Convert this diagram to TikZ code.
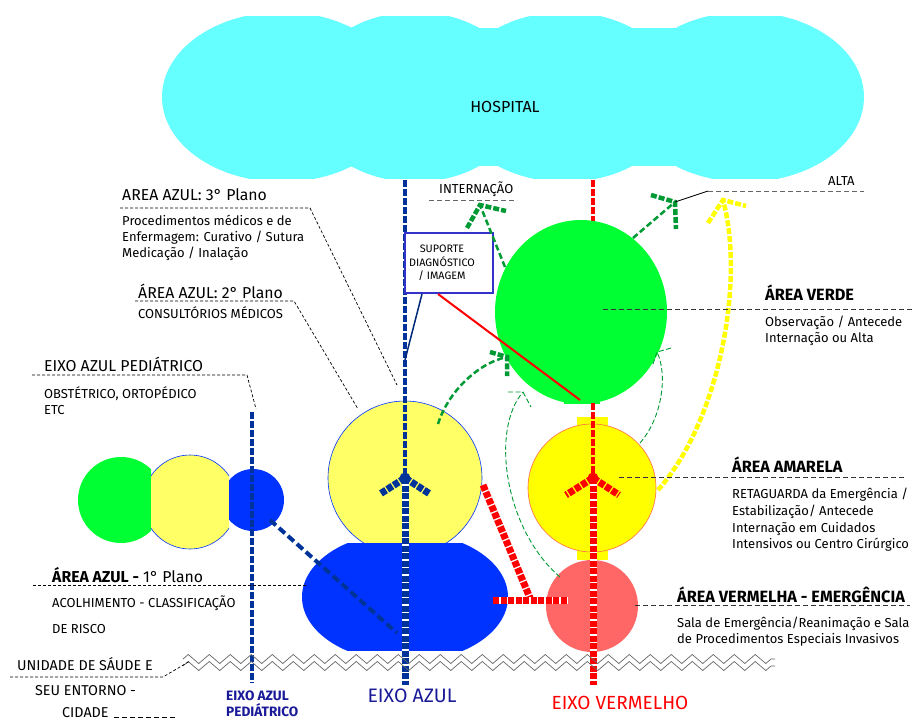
\documentclass[tikz,border=0pt]{standalone}
\usepackage{fontspec}
\setmainfont{Fira Sans}
\usetikzlibrary{shapes.geometric,decorations.pathmorphing}
\definecolor{cloudc}{HTML}{66FFFF}
\definecolor{greenA}{HTML}{00FF33}
\definecolor{yelP}{HTML}{FFFF66}
\definecolor{yelB}{HTML}{FFFF00}
\definecolor{blueA}{HTML}{0033FF}
\definecolor{salmonC}{HTML}{FF6666}
\definecolor{navyA}{HTML}{003399}
\definecolor{redA}{HTML}{FF0000}
\definecolor{greenD}{HTML}{009933}
\definecolor{boxc}{HTML}{3333CC}
\definecolor{labnavy}{HTML}{1A1A99}
\definecolor{zig}{HTML}{666666}
\begin{document}
\begin{tikzpicture}[x=1pt,y=-1pt,
 lbl/.style={anchor=base west, inner sep=0, font=\fontsize{13}{15}\selectfont},
 ttl/.style={anchor=base west, inner sep=0, font=\fontsize{15.8}{18}\selectfont},
 uttl/.style={anchor=base west, inner sep=0, font=\fontsize{14.3}{16}\selectfont},
 bttl/.style={anchor=base west, inner sep=0, font=\fontsize{16.3}{18}\selectfont\bfseries},
 leader/.style={draw=black, line width=0.7pt, dash pattern=on 3pt off 2pt},
 leaderB/.style={draw=black!80, line width=1pt, dash pattern=on 5pt off 3pt},
 axisthin/.style={line width=3.5pt, dash pattern=on 7pt off 2pt},
 axisthick/.style={line width=7pt, dash pattern=on 6pt off 1.5pt},
 under/.style={draw=white, line width=7pt},
 garrow/.style={draw=greenD, line width=2.5pt, dash pattern=on 6pt off 3pt},
 garm/.style={draw=greenD, line width=4.5pt, dash pattern=on 6pt off 2pt},
 gthin/.style={draw=greenD, line width=0.9pt, dash pattern=on 5pt off 2.5pt},
 blob/.style={inner sep=0, minimum size=#1},
]
\fill[white] (0,0) rectangle (914,720);
\useasboundingbox (0,0) rectangle (914,720);

% ---------- cloud ----------
\begin{scope}
\clip (150,16) rectangle (880,178);
\fill[cloudc] (282,97) ellipse [x radius=120, y radius=85];
\fill[cloudc] (415,97) ellipse [x radius=110, y radius=85];
\fill[cloudc] (565,97) ellipse [x radius=115, y radius=85];
\fill[cloudc] (745,97) ellipse [x radius=119, y radius=85];
\fill[cloudc] (282,28) rectangle (745,166);
\end{scope}
\node[font=\fontsize{16}{18}\selectfont] (hosp) at (505,107) {HOSPITAL};

% ---------- axis coordinates ----------
\coordinate (bTop) at (405,180);
\coordinate (bMid) at (405,478);
\coordinate (bBot) at (405,685);
\coordinate (rTop) at (593,180);
\coordinate (rGb) at (593,403);
\coordinate (rMid) at (593,478);
\coordinate (rBot) at (593,685);

\draw[redA, axisthin] (rTop) -- (593,240);

% ---------- big shapes ----------
\node[ellipse, fill=greenA, blob=0, minimum width=172, minimum height=184] (verde) at (581,312) {};
\fill[greenA] (564,395) rectangle (600,404);

\node[circle, fill=salmonC, blob=92] (vermelha) at (592,606) {};
\fill[yelB] (577,417) rectangle (608,430);
\fill[yelB] (577,546) rectangle (608,560);
\node[circle, fill=yelB, draw=salmonC!70!orange, line width=0.6pt, blob=128] (amarela) at (592,488) {};

\node[circle, fill=yelP, draw=blueA, line width=0.6pt, blob=154] (azul2) at (405,478) {};
\begin{scope}
\clip (290,543) rectangle (520,650);
\node[ellipse, fill=blueA, blob=0, minimum width=206, minimum height=130] (azul1) at (405,597) {};
\end{scope}

% ---------- small group ----------
\begin{scope}
\clip (60,440) rectangle (151,560);
\node[circle, fill=greenA, blob=86] (sg) at (121,500) {};
\end{scope}
\begin{scope}
\clip (151,440) rectangle (229,560);
\node[circle, fill=yelP, draw=blueA, line width=0.6pt, blob=94] (sy) at (190,502) {};
\end{scope}
\begin{scope}
\clip (229,440) rectangle (300,560);
\node[circle, fill=blueA, blob=62] (sb) at (253,500) {};
\end{scope}

% ---------- axes ----------
\draw[navyA, axisthin] (bTop) -- (bMid);
\draw[under] (bMid) -- (bBot);
\draw[navyA, axisthick] (bMid) -- (bBot);
\coordinate (bL) at (380,494);
\coordinate (bR) at (430,494);
\draw[navyA, axisthick] (bMid) -- (bL);
\draw[navyA, axisthick] (bMid) -- (bR);
\fill[navyA] (bMid) circle (5.5);

\draw[redA, axisthin] (rGb) -- (rMid);
\draw[under] (rMid) -- (rBot);
\draw[redA, axisthick] (rMid) -- (rBot);
\coordinate (rL) at (566,495);
\coordinate (rR) at (619,495);
\draw[redA, axisthick] (rMid) -- (rL);
\draw[redA, axisthick] (rMid) -- (rR);
\fill[redA] (rMid) circle (5.5);

% pediatric axis
\coordinate (pTop) at (252,412);
\coordinate (pBot) at (252,683);
\draw[navyA, line width=3.5pt, dash pattern=on 7pt off 2pt] (pTop) -- (pBot);
% diagonal from small blue circle
\coordinate (dS) at (270,520);
\coordinate (dE) at (397,633);
\draw[navyA, line width=4pt, dash pattern=on 8pt off 4pt] (dS) -- (dE);

% red connector
\coordinate (c1) at (483,485);
\coordinate (c2) at (530,598);
\coordinate (c3) at (493,600);
\coordinate (c4) at (568,600);
\draw[under] (c1) -- (c2); \draw[redA, axisthick] (c1) -- (c2);
\draw[under] (c3) -- (c4); \draw[redA, axisthick] (c3) -- (c4);

% ---------- suporte box ----------
\node[draw=boxc, line width=2.5pt, fill=white, blob=0, minimum width=88, minimum height=60] (sup) at (449,263) {};
\node[align=center, inner sep=0, font=\fontsize{10.8}{13.5}\selectfont] (suptxt) at (442,263) {SUPORTE\\DIAGNÓSTICO\\/ IMAGEM};
\coordinate (supA) at (422,294);
\coordinate (supB) at (438,294);
\coordinate (supAe) at (405,360);
\coordinate (supBe) at (580,400);
\draw[navyA!80!black, line width=1.5pt] (supA) -- (supAe);
\draw[redA, line width=2pt] (supB) -- (supBe);

% ---------- green arrows ----------
\coordinate (g1s) at (505,267); \coordinate (g1t) at (480,205);
\coordinate (g1a) at (467,228); \coordinate (g1b) at (506,211);
\draw[garrow] (g1s) -- (g1t);
\draw[garm] (g1a) -- (g1t) -- (g1b);

\coordinate (g2s) at (633,238); \coordinate (g2t) at (675,202);
\coordinate (g2a) at (651,195); \coordinate (g2b) at (676,229);
\draw[garrow] (g2s) -- (g2t);
\draw[garm] (g2a) -- (g2t) -- (g2b);

\coordinate (g3s) at (438,424); \coordinate (g3t) at (507,357);
\coordinate (g3a) at (490,352); \coordinate (g3b) at (507,376);
\draw[garrow] (g3s) .. controls (448,392) and (478,363) .. (g3t);
\draw[garm] (g3a) -- (g3t) -- (g3b);

\coordinate (g4s) at (560,577); \coordinate (g4t) at (523,392);
\coordinate (g4a) at (508,392); \coordinate (g4b) at (531,407);
\draw[gthin] (g4s) .. controls (505,530) and (490,430) .. (g4t);
\draw[gthin] (g4a) -- (g4t) -- (g4b);

\coordinate (g5s) at (640,443); \coordinate (g5t) at (657,352);
\coordinate (g5a) at (671,348); \coordinate (g5b) at (652,367);
\draw[gthin] (g5s) .. controls (662,418) and (668,375) .. (g5t);
\draw[gthin] (g5a) -- (g5t) -- (g5b);

% yellow arrow
\coordinate (ys) at (658,490); \coordinate (yt) at (723,200);
\coordinate (ya) at (708,223); \coordinate (yb) at (746,206);
\draw[yelB, line width=4.5pt, dash pattern=on 6pt off 2pt] (ys) .. controls (720,420) and (745,280) .. (yt);
\draw[yelB, line width=4.5pt, dash pattern=on 6pt off 2pt] (ya) -- (yt) -- (yb);

% ---------- zigzag ground ----------
\coordinate (z1a) at (183,659); \coordinate (z1b) at (775,659);
\coordinate (z2a) at (183,666); \coordinate (z2b) at (775,666);
\draw[zig, line width=0.7pt, decorate, decoration={zigzag, segment length=21pt, amplitude=4.5pt}] (z1a) -- (z1b);
\draw[zig, line width=0.7pt, decorate, decoration={zigzag, segment length=21pt, amplitude=4.5pt}] (z2a) -- (z2b);

% ---------- left labels ----------
\node[ttl] (a3t) at (122,200) {AREA AZUL: 3° Plano};
\node[lbl] (a3a) at (122,225) {Procedimentos médicos e de};
\node[lbl] (a3b) at (122,241) {Enfermagem: Curativo / Sutura};
\node[lbl] (a3c) at (122,257) {Medicação / Inalação};
\coordinate (l3a) at (120,208); \coordinate (l3b) at (310,208); \coordinate (l3c) at (397,385);
\draw[leader] (l3a) -- (l3b) -- (l3c);

\node[ttl] (a2t) at (138,298) {ÁREA AZUL: 2° Plano};
\node[lbl] (a2a) at (138,318) {CONSULTÓRIOS MÉDICOS};
\coordinate (l2a) at (135,301); \coordinate (l2b) at (294,301); \coordinate (l2c) at (358,409);
\draw[leader] (l2a) -- (l2b) -- (l2c);

\node[ttl] (pt) at (44,371) {EIXO AZUL PEDIÁTRICO};
\node[lbl] (pa) at (44,398) {OBSTÉTRICO, ORTOPÉDICO};
\node[lbl] (pb) at (44,414) {ETC};
\coordinate (lpa) at (32,375); \coordinate (lpb) at (247,375); \coordinate (lpc) at (256,409);
\draw[leader] (lpa) -- (lpb) -- (lpc);

\node[ttl] (a1t) at (52,582) {\textbf{ÁREA AZUL -} 1° Plano};
\node[lbl] (a1a) at (52,607) {ACOLHIMENTO - CLASSIFICAÇÃO};
\node[lbl] (a1b) at (52,633) {DE RISCO};
\coordinate (l1a) at (33,585); \coordinate (l1b) at (308,585);
\draw[leader] (l1a) -- (l1b);

\node[uttl] (u1) at (17,670) {UNIDADE DE SÁUDE E};
\node[uttl] (u2) at (35,695) {SEU ENTORNO -};
\node[uttl] (u3) at (62,717) {CIDADE};
\coordinate (lua) at (10,677); \coordinate (lub) at (163,677); \coordinate (luc) at (190,661);
\draw[leader] (lua) -- (lub) -- (luc);
\coordinate (lca) at (114,717); \coordinate (lcb) at (175,717);
\draw[leader, dash pattern=on 5pt off 3pt] (lca) -- (lcb);

% ---------- top labels ----------
\node[lbl] (intern) at (439,193) {INTERNAÇÃO};
\coordinate (lia) at (429,200); \coordinate (lib) at (517,200);
\draw[leaderB, draw=black!60] (lia) -- (lib);

\node[lbl] (alta) at (828,185) {ALTA};
\coordinate (laa) at (708,191); \coordinate (lab) at (864,191);
\draw[black, line width=0.8pt] (g2t) -- (laa);
\draw[leaderB, draw=black!60] (laa) -- (lab);

% ---------- right labels ----------
\node[bttl] (vt) at (765,300) {ÁREA VERDE};
\node[lbl] (va) at (765,326) {Observação / Antecede};
\node[lbl] (vb) at (765,342) {Internação ou Alta};
\coordinate (lva) at (603,309); \coordinate (lvb) at (913,309);
\draw[leaderB] (lva) -- (lvb);

\node[bttl] (amt) at (732,472) {ÁREA AMARELA};
\node[lbl] (ama) at (732,498) {RETAGUARDA da Emergência /};
\node[lbl] (amb) at (732,515) {Estabilização/ Antecede};
\node[lbl] (amc) at (732,532) {Internação em Cuidados};
\node[lbl] (amd) at (732,548) {Intensivos ou Centro Cirúrgico};
\coordinate (lama) at (619,477); \coordinate (lamb) at (905,477);
\draw[leaderB] (lama) -- (lamb);

\node[bttl] (vmt) at (677,602) {ÁREA VERMELHA - EMERGÊNCIA};
\node[lbl] (vma) at (677,627) {Sala de Emergência/Reanimação e Sala};
\node[lbl] (vmb) at (677,643) {de Procedimentos Especiais Invasivos};
\coordinate (lvma) at (635,605); \coordinate (lvmb) at (910,605);
\draw[leaderB] (lvma) -- (lvmb);

% ---------- axis names ----------
\node[anchor=base, inner sep=0, font=\fontsize{19.5}{22}\selectfont, text=labnavy] (eazul) at (412,702) {EIXO AZUL};
\node[anchor=base, inner sep=0, font=\fontsize{19}{22}\selectfont, text=redA] (everm) at (620,709) {EIXO VERMELHO};
\node[anchor=base west, inner sep=0, font=\fontsize{13.6}{15}\selectfont\bfseries, text=labnavy] (ep1) at (226,700) {EIXO AZUL};
\node[anchor=base west, inner sep=0, font=\fontsize{13.6}{15}\selectfont\bfseries, text=labnavy] (ep2) at (226,716) {PEDIÁTRICO};
\end{tikzpicture}
\end{document}
